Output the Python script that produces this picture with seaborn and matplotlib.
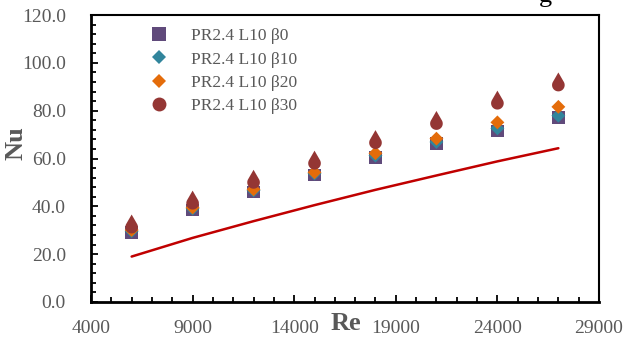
import numpy as np
import pandas as pd
import matplotlib
matplotlib.use("Agg")
import matplotlib.pyplot as plt
from matplotlib.path import Path
from matplotlib.lines import Line2D
from matplotlib.ticker import MultipleLocator, FixedLocator, FormatStrFormatter
import seaborn as sns

# ---- data ----
re_vals = [6000, 9000, 12000, 15000, 18000, 21000, 24000, 27000]
nu_b0 = [29.0, 38.4, 46.0, 53.1, 60.4, 66.3, 71.5, 77.1]
nu_b10 = [29.6, 39.0, 46.6, 53.7, 61.2, 66.9, 72.6, 77.9]
nu_b20 = [30.1, 39.5, 47.1, 54.2, 62.2, 68.3, 75.1, 81.6]
nu_b30 = [31.3, 41.3, 50.0, 58.0, 66.6, 74.6, 83.1, 90.7]
nu_corr = [19.0, 26.8, 33.8, 40.5, 46.9, 52.9, 58.8, 64.3]
labels = ["PR2.4 L10 \u03b20", "PR2.4 L10 \u03b210", "PR2.4 L10 \u03b220", "PR2.4 L10 \u03b230"]
x_ticks = [4000, 9000, 14000, 19000, 24000, 29000]

df = pd.DataFrame({"Re": re_vals, "b0": nu_b0, "b10": nu_b10, "b20": nu_b20,
                   "b30": nu_b30, "corr": nu_corr})

sns.set_theme(style="white")
plt.rcParams["font.family"] = ["Liberation Serif", "DejaVu Serif"]

c_b0 = "#604A7B"
c_b10 = "#31859C"
c_b20 = "#E46C0A"
c_b30 = "#943634"
c_line = "#C00000"
gray = "#595959"

# teardrop marker: circle (radius 1 at origin) with a tip at (0, 2)
t = np.deg2rad(np.linspace(30, -210, 40))
verts = [(0.0, 2.0)] + [(np.cos(a), np.sin(a)) for a in t] + [(0.0, 2.0)]
codes = [Path.MOVETO] + [Path.LINETO] * (len(verts) - 2) + [Path.CLOSEPOLY]
tear = Path(verts, codes)

fig = plt.figure(figsize=(6.26, 3.37), dpi=100)
ax = fig.add_axes([91 / 626, 1 - 302 / 337, 508 / 626, 287 / 337])

sns.lineplot(data=df, x="Re", y="corr", ax=ax, color=c_line, linewidth=1.8, zorder=2)
sns.scatterplot(data=df, x="Re", y="b0", ax=ax, marker="s", s=80, color=c_b0,
                edgecolor="none", zorder=3)
sns.scatterplot(data=df, x="Re", y="b10", ax=ax, marker="D", s=50, color=c_b10,
                edgecolor="none", zorder=4)
sns.scatterplot(data=df, x="Re", y="b20", ax=ax, marker="D", s=50, color=c_b20,
                edgecolor="none", zorder=5)
sns.scatterplot(data=df, x="Re", y="b30", ax=ax, marker=tear, s=330, color=c_b30,
                edgecolor="none", zorder=6)

ax.set_xlim(4000, 29000)
ax.set_ylim(0, 120)
ax.xaxis.set_major_locator(FixedLocator(x_ticks))
ax.xaxis.set_minor_locator(MultipleLocator(1000))
ax.yaxis.set_major_locator(MultipleLocator(20))
ax.yaxis.set_minor_locator(MultipleLocator(4))
ax.yaxis.set_major_formatter(FormatStrFormatter("%.1f"))
ax.xaxis.set_major_formatter(FormatStrFormatter("%d"))
ax.tick_params(which="both", direction="in", color="black", width=1.3,
               top=False, right=False, bottom=True, left=True)
ax.tick_params(which="major", length=5)
ax.tick_params(which="minor", length=3.5)
ax.tick_params(axis="x", which="major", labelsize=14, labelcolor=gray, pad=13)
ax.tick_params(axis="y", which="major", labelsize=14, labelcolor=gray, pad=18)
for lab in ax.get_xticklabels() + ax.get_yticklabels():
    lab.set_family(["Liberation Serif", "DejaVu Serif"])

for side in ["left", "bottom"]:
    ax.spines[side].set_linewidth(2.0)
    ax.spines[side].set_color("black")
for side in ["top", "right"]:
    ax.spines[side].set_linewidth(1.5)
    ax.spines[side].set_color("black")

ax.set_xlabel("")
ax.set_ylabel("")
fig.text(346 / 626, 1 - 323 / 337, "Re", fontsize=19, fontweight="bold", color=gray,
         ha="center", va="center")
fig.text(16 / 626, 1 - 143 / 337, "Nu", fontsize=19, fontweight="bold", color=gray,
         ha="center", va="center", rotation=90)

# cropped title remnant at top edge
fig.text(545 / 626, 1 - 2 / 337, "g", fontsize=19, color="black", ha="center", va="baseline")

handles = [
    Line2D([], [], linestyle="none", marker="s", markersize=9.5, color=c_b0, markeredgewidth=0),
    Line2D([], [], linestyle="none", marker="D", markersize=7.5, color=c_b10, markeredgewidth=0),
    Line2D([], [], linestyle="none", marker="D", markersize=7.5, color=c_b20, markeredgewidth=0),
    Line2D([], [], linestyle="none", marker="o", markersize=10, color=c_b30, markeredgewidth=0),
]
leg = ax.legend(handles, labels, loc="upper left", bbox_to_anchor=(0.1175, 0.955),
                frameon=False, fontsize=12.5, handlelength=1.0, handletextpad=1.3,
                labelspacing=0.42, borderpad=0, borderaxespad=0)
for txt in leg.get_texts():
    txt.set_color(gray)

fig.savefig("out.png", dpi=100, facecolor="white")
